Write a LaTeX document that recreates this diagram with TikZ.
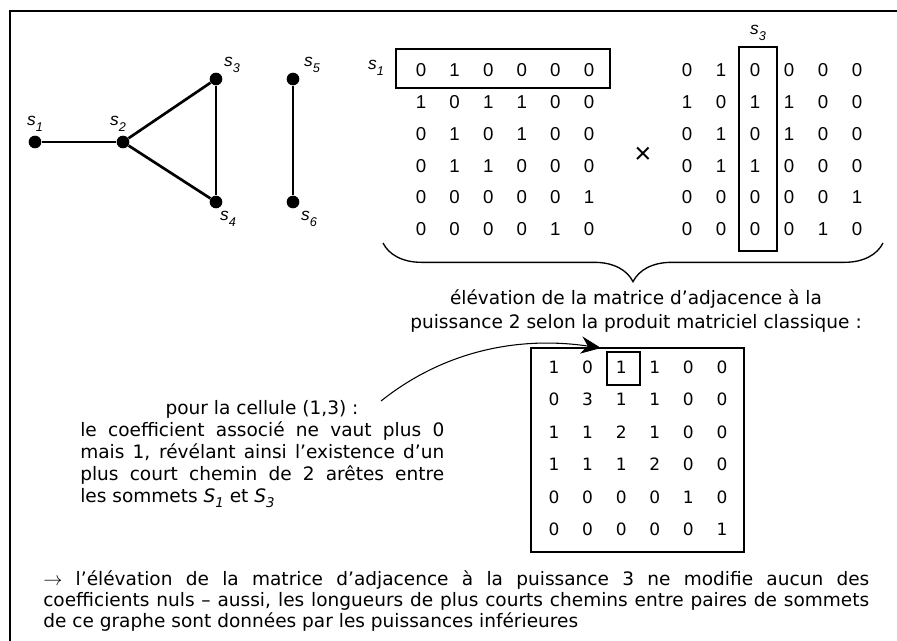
\documentclass[tikz,border=0pt]{standalone}
\usepackage{fontspec}
\setmainfont{DejaVu Sans}
\newfontfamily\arialf{Liberation Sans}
\usetikzlibrary{arrows.meta,decorations.pathreplacing,fit}
\newdimen\PX \PX=0.75pt
\newcommand\vsub[2]{\textit{#1}\raisebox{-0.32em}{\fontsize{9.5pt}{9.5pt}\selectfont\textit{#2}}}
\newcommand\tsub[2]{\textit{#1}\raisebox{-0.3em}{\fontsize{10pt}{10pt}\selectfont\textit{#2}}}
\tikzset{
 frame/.style={line width=2pt},
 vtx/.style={circle, fill=black, inner sep=0pt, minimum size=9.5pt},
 edge/.style={line width=2pt},
 glbl/.style={font={\arialf\fontsize{13pt}{15pt}\selectfont}, inner sep=0pt},
 amat/.style={font={\arialf\fontsize{14pt}{16pt}\selectfont}, inner sep=0pt, text height=10pt, text depth=0pt},
 dmat/.style={font={\fontsize{12.75pt}{15pt}\selectfont}, inner sep=0pt, text height=9.3pt, text depth=0pt},
 box/.style={draw, line width=1.2pt, inner sep=0pt},
 txt/.style={font={\fontsize{13.9pt}{16pt}\selectfont}, inner sep=0pt},
 brc/.style={decorate, decoration={brace, mirror, amplitude=29pt}, line width=1pt},
 arr/.style={-{Stealth[length=15pt,width=13pt,inset=5pt]}, line width=0.8pt},
 timesf/.style={font={\arialf\fontsize{22pt}{22pt}\selectfont}, inner sep=0pt},
}
\begin{document}
\begin{tikzpicture}[x=0.75pt,y=-0.75pt]
\useasboundingbox (0,0) rectangle (897,640);
% frame
\draw[frame] (10,660) -- (10,11) -- (910,11);
% graph
\node[vtx] (s1) at (35,142) {};
\node[vtx] (s2) at (123,142) {};
\node[vtx] (s3) at (216,79) {};
\node[vtx] (s4) at (216,202) {};
\node[vtx] (s5) at (293,79) {};
\node[vtx] (s6) at (293,202) {};
\draw[edge] (s1) -- (s2);
\draw[edge] (s2) -- (s3);
\draw[edge] (s2) -- (s4);
\draw[edge] (s3) -- (s4);
\draw[edge] (s5) -- (s6);
\node[glbl] (l1) at (35,124) {\vsub{s}{1}};
\node[glbl] (l2) at (118,124) {\vsub{s}{2}};
\node[glbl] (l3) at (232,65) {\vsub{s}{3}};
\node[glbl] (l4) at (228,219) {\vsub{s}{4}};
\node[glbl] (l5) at (312,65) {\vsub{s}{5}};
\node[glbl] (l6) at (309,219) {\vsub{s}{6}};
% matrix 1
\foreach \row [count=\r] in {{0,1,0,0,0,0},{1,0,1,1,0,0},{0,1,0,1,0,0},{0,1,1,0,0,0},{0,0,0,0,0,1},{0,0,0,0,1,0}}{
  \foreach \v [count=\c] in \row {
    \node[amat] (A\r\c) at ({421+33.6*(\c-1)},{70+31.8*(\r-1)}) {\v};
  }
}
\node[glbl] (ms1) at (376,68) {\vsub{s}{1}};
\node[box, fit={(396,49) (610,88)}] (rowbox) {};
\node[timesf] (times) at (643,155) {×};
% matrix 2
\foreach \row [count=\r] in {{0,1,0,0,0,0},{1,0,1,1,0,0},{0,1,0,1,0,0},{0,1,1,0,0,0},{0,0,0,0,0,1},{0,0,0,0,1,0}}{
  \foreach \v [count=\c] in \row {
    \node[amat] (B\r\c) at ({687+34*(\c-1)},{70+31.8*(\r-1)}) {\v};
  }
}
\node[glbl] (ms3) at (758,33) {\vsub{s}{3}};
\node[box, fit={(739,47) (777,251)}] (colbox) {};
% brace
\coordinate (bl) at (383,243);
\coordinate (br) at (883,243);
\draw[brc] (bl) -- (br);
\node[txt, anchor=base] (t1) at (636,304) {élévation de la matrice d’adjacence à la};
\node[txt, anchor=base] (t2) at (636,328) {puissance 2 selon la produit matriciel classique :};
% result matrix
\node[box, fit={(531,348) (744,552)}] (resbox) {};
\foreach \row [count=\r] in {{1,0,1,1,0,0},{0,3,1,1,0,0},{1,1,2,1,0,0},{1,1,1,2,0,0},{0,0,0,0,1,0},{0,0,0,0,0,1}}{
  \foreach \v [count=\c] in \row {
    \node[dmat] (C\r\c) at ({554+33.6*(\c-1)},{367+32.5*(\r-1)}) {\v};
  }
}
\node[box, fit={(607,352) (640,385)}] (cell) {};
% left text
\node[txt, anchor=base] (p1) at (262,414) {pour la cellule (1,3) :};
\node[txt, anchor=base west] (p2) at (80,436) {\makebox[364\PX][s]{le coefficient associé ne vaut plus 0}};
\node[txt, anchor=base west] (p3) at (80,458) {\makebox[364\PX][s]{mais 1, révélant ainsi l’existence d’un}};
\node[txt, anchor=base west] (p4) at (80,480) {\makebox[364\PX][s]{plus court chemin de 2 arêtes entre}};
\node[txt, anchor=base west] (p5) at (80,502) {les sommets \tsub{S}{1} et \tsub{S}{3}};
% arrow
\coordinate (as) at (381,401);
\coordinate (ae) at (601,348);
\draw[arr] (as) .. controls (445,350) and (520,336) .. (ae);
% bottom text
\node[txt, anchor=base west] (b1) at (43,585) {\makebox[826\PX][s]{$\rightarrow$ l’élévation de la matrice d’adjacence à la puissance 3 ne modifie aucun des}};
\node[txt, anchor=base west] (b2) at (43,606) {\makebox[826\PX][s]{coefficients nuls – aussi, les longueurs de plus courts chemins entre paires de sommets}};
\node[txt, anchor=base west] (b3) at (43,627) {de ce graphe sont données par les puissances inférieures};
\end{tikzpicture}
\end{document}
